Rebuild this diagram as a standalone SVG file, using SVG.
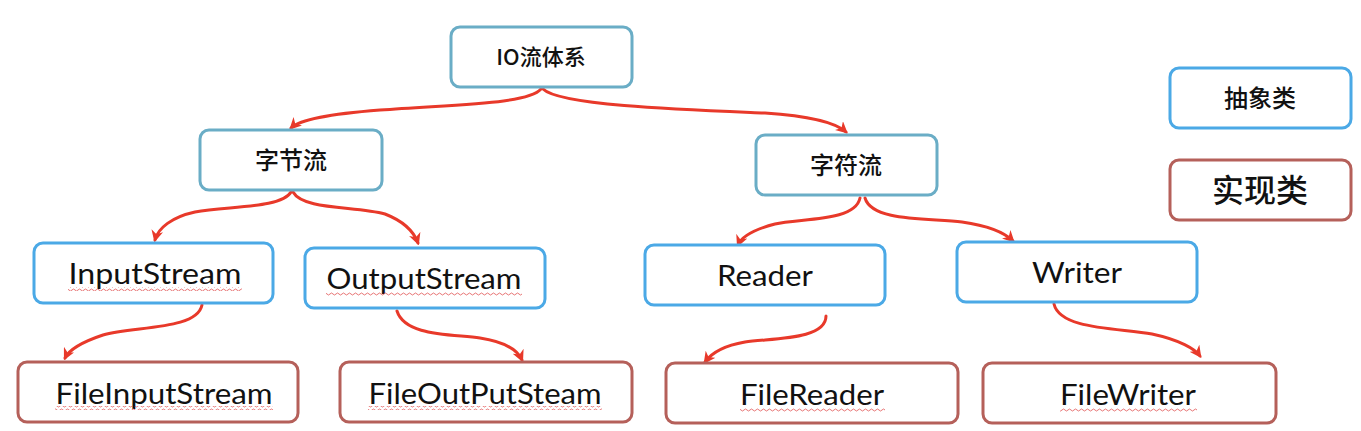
<svg xmlns="http://www.w3.org/2000/svg" width="1361" height="431" viewBox="0 0 1361 431">
<style>
.box{fill:#fff;stroke-width:3}
.abs0{stroke:#6AADC6}
.abs{stroke:#4BA9E6}
.impl{stroke:#B5605A}
.cn{font-family:"Noto Sans CJK SC","Noto Sans",sans-serif;font-size:24px;font-weight:500;fill:#111;text-anchor:middle}
.en{font-family:Lato,"Liberation Sans",sans-serif;font-size:29px;fill:#111;text-anchor:middle}
.conn{fill:none;stroke:#E8392A;stroke-width:3;stroke-linecap:round}
</style>
<defs>
<marker id="arr" viewBox="0 0 10 10" refX="8" refY="5" markerWidth="4" markerHeight="4" orient="auto" markerUnits="strokeWidth">
<path d="M0,0 L10,5 L0,10 L3,5 Z" fill="#E8392A"/>
</marker>
<pattern id="wave" width="6" height="4" patternUnits="userSpaceOnUse">
<path d="M0,2 Q1.5,0 3,2 T6,2" fill="none" stroke="#E05050" stroke-width="0.8"/>
</pattern>
</defs>

<g id="connectors">
<path class="conn" marker-end="url(#arr)" d="M541,89 C528,104 460,104 380,110 C330,114 300,119 291,128"/>
<path class="conn" marker-end="url(#arr)" d="M543,89 C560,106 690,110 765,113 C810,116 835,122 846,132"/>
<path class="conn" marker-end="url(#arr)" d="M291,192 C282,208 230,206 195,212 C172,217 158,228 155,240"/>
<path class="conn" marker-end="url(#arr)" d="M293,192 C303,210 355,206 385,214 C403,221 414,232 418,243"/>
<path class="conn" marker-end="url(#arr)" d="M860,198 C855,222 800,218 775,224 C752,230 741,238 738,245"/>
<path class="conn" marker-end="url(#arr)" d="M865,198 C872,222 930,218 962,222 C990,226 1005,233 1013,241"/>
<path class="conn" marker-end="url(#arr)" d="M202,305 C197,330 135,326 103,335 C82,342 69,350 65,358"/>
<path class="conn" marker-end="url(#arr)" d="M397,311 C405,336 450,334 480,338 C506,342 518,351 522,360"/>
<path class="conn" marker-end="url(#arr)" d="M826,316 C826,340 772,338 745,342 C722,346 710,355 705,362"/>
<path class="conn" marker-end="url(#arr)" d="M1054,304 C1060,330 1120,328 1152,334 C1180,340 1195,349 1200,356"/>
</g>

<g id="io"><rect class="box abs0" x="451" y="27" width="181" height="60" rx="9"/><text class="cn" x="541" y="65" style="font-size:22px">IO流体系</text></g>
<g id="byte"><rect class="box abs0" x="200" y="130" width="182" height="60" rx="9"/><text class="cn" x="291" y="169">字节流</text></g>
<g id="char"><rect class="box abs0" x="756" y="135" width="181" height="60" rx="9"/><text class="cn" x="846" y="174">字符流</text></g>

<g id="inputstream"><rect class="box abs" x="34" y="243" width="239" height="60" rx="9"/><text class="en" x="155" y="284" textLength="173" lengthAdjust="spacingAndGlyphs">InputStream</text></g>
<g id="outputstream"><rect class="box abs" x="305" y="248" width="240" height="60" rx="9"/><text class="en" x="424" y="289" textLength="195" lengthAdjust="spacingAndGlyphs">OutputStream</text></g>
<g id="reader"><rect class="box abs" x="645" y="245" width="240" height="60" rx="9"/><text class="en" x="765" y="286" textLength="96" lengthAdjust="spacingAndGlyphs">Reader</text></g>
<g id="writer"><rect class="box abs" x="957" y="242" width="240" height="60" rx="9"/><text class="en" x="1077" y="283" textLength="90" lengthAdjust="spacingAndGlyphs">Writer</text></g>

<g id="fileinputstream"><rect class="box impl" x="18" y="362" width="280" height="60" rx="9"/><text class="en" x="164" y="404" textLength="217" lengthAdjust="spacingAndGlyphs">FileInputStream</text></g>
<g id="fileoutputsteam"><rect class="box impl" x="340" y="362" width="292" height="60" rx="9"/><text class="en" x="485" y="404" textLength="233" lengthAdjust="spacingAndGlyphs">FileOutPutSteam</text></g>
<g id="filereader"><rect class="box impl" x="666" y="363" width="292" height="60" rx="9"/><text class="en" x="812" y="405" textLength="144" lengthAdjust="spacingAndGlyphs">FileReader</text></g>
<g id="filewriter"><rect class="box impl" x="983" y="363" width="293" height="60" rx="9"/><text class="en" x="1128" y="405" textLength="136" lengthAdjust="spacingAndGlyphs">FileWriter</text></g>

<g id="legend-abstract"><rect class="box abs" x="1170" y="68" width="181" height="60" rx="9"/><text class="cn" x="1260" y="107">抽象类</text></g>
<g id="legend-impl"><rect class="box impl" x="1170" y="160" width="181" height="60" rx="9"/><text class="cn" x="1260" y="202" style="font-size:32px">实现类</text></g>

<g id="squiggles" fill="url(#wave)">
<rect x="68" y="287" width="174" height="4"/>
<rect x="326" y="292" width="196" height="4"/>
<rect x="55" y="406" width="218" height="4"/>
<rect x="368" y="406" width="234" height="4"/>
<rect x="740" y="408" width="145" height="4"/>
<rect x="1060" y="408" width="137" height="4"/>
</g>
</svg>
